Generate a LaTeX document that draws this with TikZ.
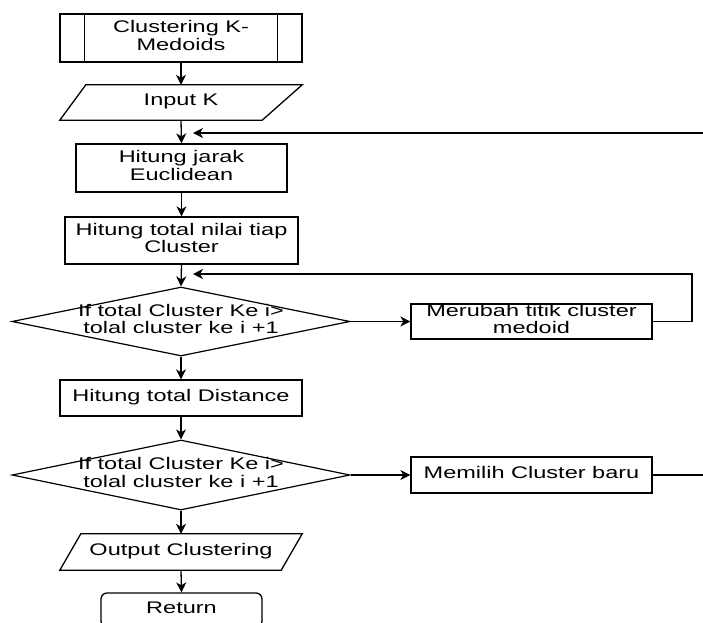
\documentclass[tikz,border=0pt]{standalone}
\usepackage{fontspec}
\usepackage{graphicx}
\setmainfont{Liberation Sans}
\usetikzlibrary{shapes.geometric,arrows.meta,calc}
\newcommand{\tx}[1]{\scalebox{1.40}[1]{\begin{tabular}{@{}c@{}}#1\end{tabular}}}
\begin{document}
\begin{tikzpicture}[x=1pt,y=-1pt,
  txt/.style={inner sep=0pt, font=\fontsize{16.8}{17.3}\selectfont, text=black},
  box/.style={txt, draw, line width=1.3pt},
  ghost/.style={txt},
  dia/.style={draw, diamond, line width=1.2pt, inner sep=0pt},
  arr/.style={-{Stealth[length=10pt,width=10pt,inset=3pt]}, line width=1.3pt},
  ln/.style={line width=1.3pt}]
\clip (0,0) rectangle (703,622);
\fill[white] (0,0) rectangle (703,622);

% nodes
\node[box, minimum width=242, minimum height=48] (start) at (181,38) {\tx{Clustering K-\\Medoids}};
\draw[ln] ($(start.north west)+(25,0)$) -- ($(start.south west)+(25,0)$);
\draw[ln] ($(start.north east)+(-25,0)$) -- ($(start.south east)+(-25,0)$);

\node[ghost, minimum width=242, minimum height=35] (inp) at (181,102.5) {\tx{Input K}};
\draw[ln] ($(inp.north west)+(26,0)$) -- (inp.north east) -- ($(inp.south east)+(-40,0)$) -- (inp.south west) -- cycle;

\node[box, minimum width=211, minimum height=48] (hj) at (181.5,168) {\tx{Hitung jarak\\Euclidean}};
\node[box, minimum width=233, minimum height=47] (ht) at (181.5,240.5) {\tx{Hitung total nilai tiap\\Cluster}};

\node[dia, minimum width=338, minimum height=69,
  label={[txt]center:\tx{If total Cluster Ke i>\\tolal cluster ke i +1}}] (d1) at (181,321.5) {};
\node[box, minimum width=241, minimum height=35] (mr) at (531.5,321.5) {\tx{Merubah titik cluster\\medoid}};

\node[box, minimum width=242, minimum height=36] (dist) at (181,398) {\tx{Hitung total Distance}};

\node[dia, minimum width=338, minimum height=70,
  label={[txt]center:\tx{If total Cluster Ke i>\\tolal cluster ke i +1}}] (d2) at (181,475) {};
\node[box, minimum width=241, minimum height=36] (mp) at (531.5,475) {\tx{Memilih Cluster baru}};

\node[ghost, minimum width=242, minimum height=36] (out) at (181,552) {\tx{Output Clustering}};
\draw[ln] ($(out.north west)+(21,0)$) -- (out.north east) -- ($(out.south east)+(-21,0)$) -- (out.south west) -- cycle;

\node[box, rounded corners=6pt, minimum width=161, minimum height=34] (ret) at (181.5,610) {\tx{Return}};

% connectors
\draw[arr] (start.south) -- (inp.north);
\draw[arr] (inp.south) -- (hj.north);
\draw[arr] (hj.south) -- (ht.north);
\draw[arr] (ht.south) -- (d1.north);
\draw[arr] (d1.east) -- (mr.west);
\draw[arr] (d1.south) -- (dist.north);
\draw[arr] (dist.south) -- (d2.north);
\draw[arr] (d2.east) -- (mp.west);
\draw[arr] (d2.south) -- (out.north);
\draw[arr] (out.south) -- (ret.north);

\coordinate (loopc) at (692,274);
\coordinate (looptip) at (193,274);
\draw[arr] (mr.east) -| (loopc) -- (looptip);

\coordinate (mpR) at (712,475);
\draw[ln] (mp.east) -- (mpR);
\coordinate (topR) at (712,133);
\coordinate (toptip) at (193,133);
\draw[arr] (topR) -- (toptip);
\end{tikzpicture}
\end{document}
